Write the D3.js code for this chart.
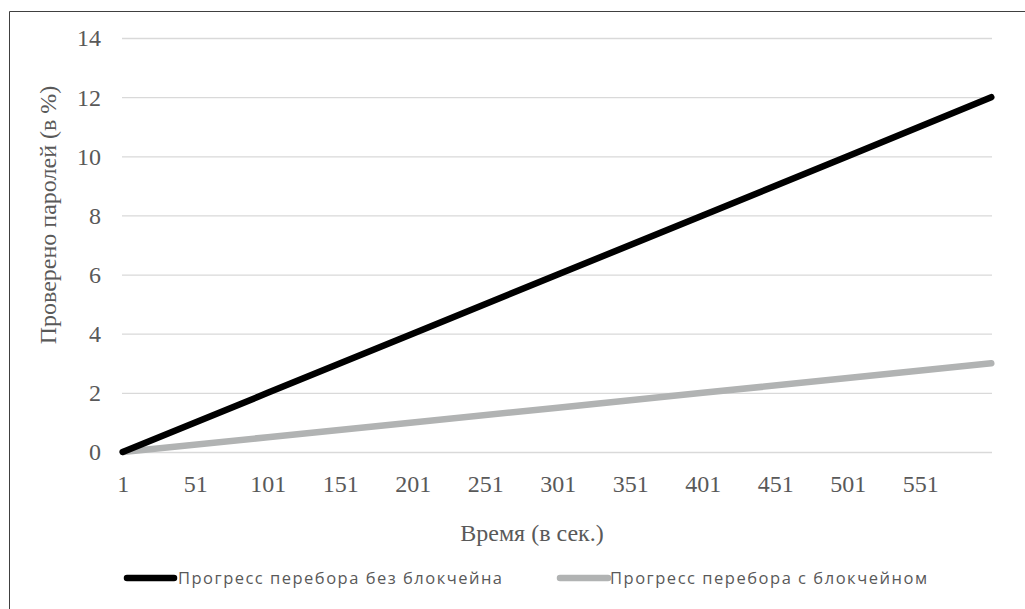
<!DOCTYPE html>
<html>
<head>
<meta charset="utf-8">
<script src="https://cdn.jsdelivr.net/npm/d3@7"></script>
<style>
  html, body { margin: 0; padding: 0; background: #fff; }
  svg { display: block; }
</style>
</head>
<body>
<svg id="chart" width="1025" height="609"></svg>
<script>
// Time range in seconds (category axis 1..600)
const timeFirst = 1;
const timeLast = 600;
const xTickLabels = [1, 51, 101, 151, 201, 251, 301, 351, 401, 451, 501, 551];
const yTicks = [0, 2, 4, 6, 8, 10, 12, 14];

// Share of passwords checked, %
const sampleTimes = [1, 101, 201, 301, 401, 501, 600];
const withoutBlockchain = [0, 2, 4, 6, 8, 10, 12];
const withBlockchain = [0, 0.5, 1, 1.5, 2, 2.5, 3];

const seriesNames = ["Прогресс перебора без блокчейна", "Прогресс перебора с блокчейном"];
const seriesColors = ["#000000", "#b1b3b3"];

const svg = d3.select("#chart");
const serif = "Liberation Serif";
const sans = "Open Sans";
const textColor = "#595959";

// chart frame (left and top edges visible)
svg.append("path")
  .attr("d", "M9.5,609 L9.5,11.5 L1025,11.5")
  .attr("fill", "none").attr("stroke", "#404040").attr("stroke-width", 1);

const plot = { left: 122, right: 992, top: 38, bottom: 452 };

const x = d3.scaleLinear().domain([timeFirst - 0.5, timeLast + 0.5]).range([plot.left, plot.right]);
const y = d3.scaleLinear().domain([0, 14]).range([plot.bottom, plot.top]);

// horizontal gridlines
svg.append("g")
  .attr("transform", `translate(${plot.left},0)`)
  .call(d3.axisLeft(y).tickValues(yTicks).tickSize(-(plot.right - plot.left)).tickFormat(""))
  .call(g => g.select(".domain").remove())
  .call(g => g.selectAll("line").attr("stroke", "#d9d9d9").attr("stroke-width", 1.3));

// y tick labels
svg.append("g")
  .attr("transform", `translate(101,0)`)
  .call(d3.axisLeft(y).tickValues(yTicks).tickSize(0).tickPadding(0))
  .call(g => g.select(".domain").remove())
  .call(g => g.selectAll("text")
    .style("font-family", serif).style("font-size", "24px")
    .attr("fill", textColor).attr("dy", "0.33em"));

// x tick labels
svg.append("g")
  .attr("transform", `translate(0,${plot.bottom})`)
  .call(d3.axisBottom(x).tickValues(xTickLabels).tickSize(0).tickPadding(0).tickFormat(d3.format("d")))
  .call(g => g.select(".domain").remove())
  .call(g => g.selectAll("text")
    .style("font-family", serif).style("font-size", "24px")
    .attr("fill", textColor).attr("dy", null).attr("y", 40));

// axis titles
svg.append("text")
  .attr("transform", "translate(56,215) rotate(-90)")
  .attr("text-anchor", "middle")
  .style("font-family", serif).style("font-size", "24px")
  .attr("fill", textColor)
  .text("Проверено паролей (в %)");

svg.append("text")
  .attr("x", 532).attr("y", 541)
  .attr("text-anchor", "middle")
  .style("font-family", serif).style("font-size", "24px")
  .attr("fill", textColor)
  .text("Время (в сек.)");

// series lines
const line = d3.line().x(d => x(d[0])).y(d => y(d[1]));
const seriesData = [withoutBlockchain, withBlockchain];
// draw the lighter series first so the dark one sits on top
[1, 0].forEach(i => {
  svg.append("path")
    .datum(sampleTimes.map((t, k) => [t, seriesData[i][k]]))
    .attr("fill", "none")
    .attr("stroke", seriesColors[i])
    .attr("stroke-width", 6.5)
    .attr("stroke-linecap", "round")
    .attr("stroke-linejoin", "round")
    .attr("d", line);
});

// legend
const legendItems = [
  { x0: 127, x1: 174, tx: 178, w: 324 },
  { x0: 560, x1: 608, tx: 610, w: 317 }
];
legendItems.forEach((it, i) => {
  svg.append("line")
    .attr("x1", it.x0).attr("x2", it.x1).attr("y1", 578).attr("y2", 578)
    .attr("stroke", seriesColors[i]).attr("stroke-width", 6.5).attr("stroke-linecap", "round");
  svg.append("text")
    .attr("x", it.tx).attr("y", 584)
    .style("font-family", sans).style("font-size", "16.5px")
    .attr("fill", textColor)
    .attr("textLength", it.w).attr("lengthAdjust", "spacing")
    .text(seriesNames[i]);
});
</script>
</body>
</html>
